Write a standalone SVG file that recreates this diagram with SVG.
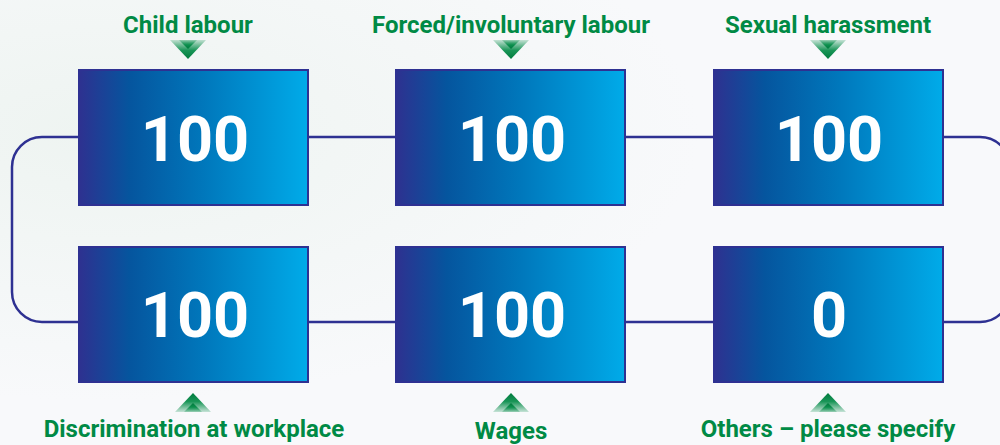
<svg xmlns="http://www.w3.org/2000/svg" width="1000" height="445" viewBox="0 0 1000 445">
<defs>
<linearGradient id="boxg" x1="0" y1="0" x2="1" y2="0">
<stop offset="0" stop-color="#2e3190"/>
<stop offset="0.22" stop-color="#05559e"/>
<stop offset="0.55" stop-color="#0078bc"/>
<stop offset="1" stop-color="#00abe9"/>
</linearGradient>
<linearGradient id="downg" x1="0" y1="0" x2="0" y2="1">
<stop offset="0" stop-color="#008a45" stop-opacity="0.2"/>
<stop offset="0.55" stop-color="#008a45" stop-opacity="0.9"/>
<stop offset="1" stop-color="#007a3d"/>
</linearGradient>
<linearGradient id="upg" x1="0" y1="1" x2="0" y2="0">
<stop offset="0" stop-color="#008a45" stop-opacity="0.2"/>
<stop offset="0.55" stop-color="#008a45" stop-opacity="0.9"/>
<stop offset="1" stop-color="#007a3d"/>
</linearGradient>
<radialGradient id="bgg" cx="0.1" cy="0.3" r="0.6">
<stop offset="0" stop-color="#eef4f1"/>
<stop offset="1" stop-color="#f8f9fb"/>
</radialGradient>
</defs>
<style>
.box{fill:url(#boxg);stroke:#2e3192;stroke-width:2}
.num{font-family:Roboto,"Liberation Sans",sans-serif;font-weight:700;font-size:63px;fill:#ffffff;text-anchor:middle}
.lbl{font-family:Roboto,"Liberation Sans",sans-serif;font-weight:700;font-size:24px;fill:#008a45;text-anchor:middle}
.conn{fill:none;stroke:#2e3192;stroke-width:2.5}
.ad{fill:url(#downg)}
.au{fill:url(#upg)}
</style>
<rect x="0" y="0" width="1000" height="445" fill="url(#bgg)"/>
<g id="connectors">
<path class="conn" d="M79,137 H42 A30,30 0 0 0 12,167 V292 A30,30 0 0 0 42,322 H79"/>
<path class="conn" d="M308,137 H396"/>
<path class="conn" d="M625,137 H713"/>
<path class="conn" d="M943,137 H980 A30,30 0 0 1 1010,167 V292 A30,30 0 0 1 980,322 H943"/>
<path class="conn" d="M308,322 H396"/>
<path class="conn" d="M625,322 H713"/>
</g>
<g id="node-child-labour">
<text class="lbl" x="188" y="33">Child labour</text>
<polygon class="ad" points="170,40 206,40 188,59"/>
<polygon class="ad" points="179,40 197,40 188,49"/>
<rect class="box" x="79" y="70" width="229" height="135"/>
<text class="num" x="195" y="161">100</text>
</g>
<g id="node-forced-labour">
<text class="lbl" x="511" y="33">Forced/involuntary labour</text>
<polygon class="ad" points="493,40 529,40 511,59"/>
<polygon class="ad" points="502,40 520,40 511,49"/>
<rect class="box" x="396" y="70" width="229" height="135"/>
<text class="num" x="512" y="161">100</text>
</g>
<g id="node-sexual-harassment">
<text class="lbl" x="828" y="33">Sexual harassment</text>
<polygon class="ad" points="810,40 846,40 828,59"/>
<polygon class="ad" points="819,40 837,40 828,49"/>
<rect class="box" x="714" y="70" width="229" height="135"/>
<text class="num" x="829" y="161">100</text>
</g>
<g id="node-discrimination">
<rect class="box" x="79" y="247" width="229" height="135"/>
<text class="num" x="195" y="337">100</text>
<polygon class="au" points="175,412 211,412 193,393"/>
<polygon class="au" points="184,412 202,412 193,403"/>
<text class="lbl" x="194" y="437">Discrimination at workplace</text>
</g>
<g id="node-wages">
<rect class="box" x="396" y="247" width="229" height="135"/>
<text class="num" x="512" y="337">100</text>
<polygon class="au" points="493,412 529,412 511,393"/>
<polygon class="au" points="502,412 520,412 511,403"/>
<text class="lbl" x="511" y="439">Wages</text>
</g>
<g id="node-others">
<rect class="box" x="714" y="247" width="229" height="135"/>
<text class="num" x="829" y="337">0</text>
<polygon class="au" points="810,412 846,412 828,393"/>
<polygon class="au" points="819,412 837,412 828,403"/>
<text class="lbl" x="828" y="437">Others – please specify</text>
</g>
</svg>
